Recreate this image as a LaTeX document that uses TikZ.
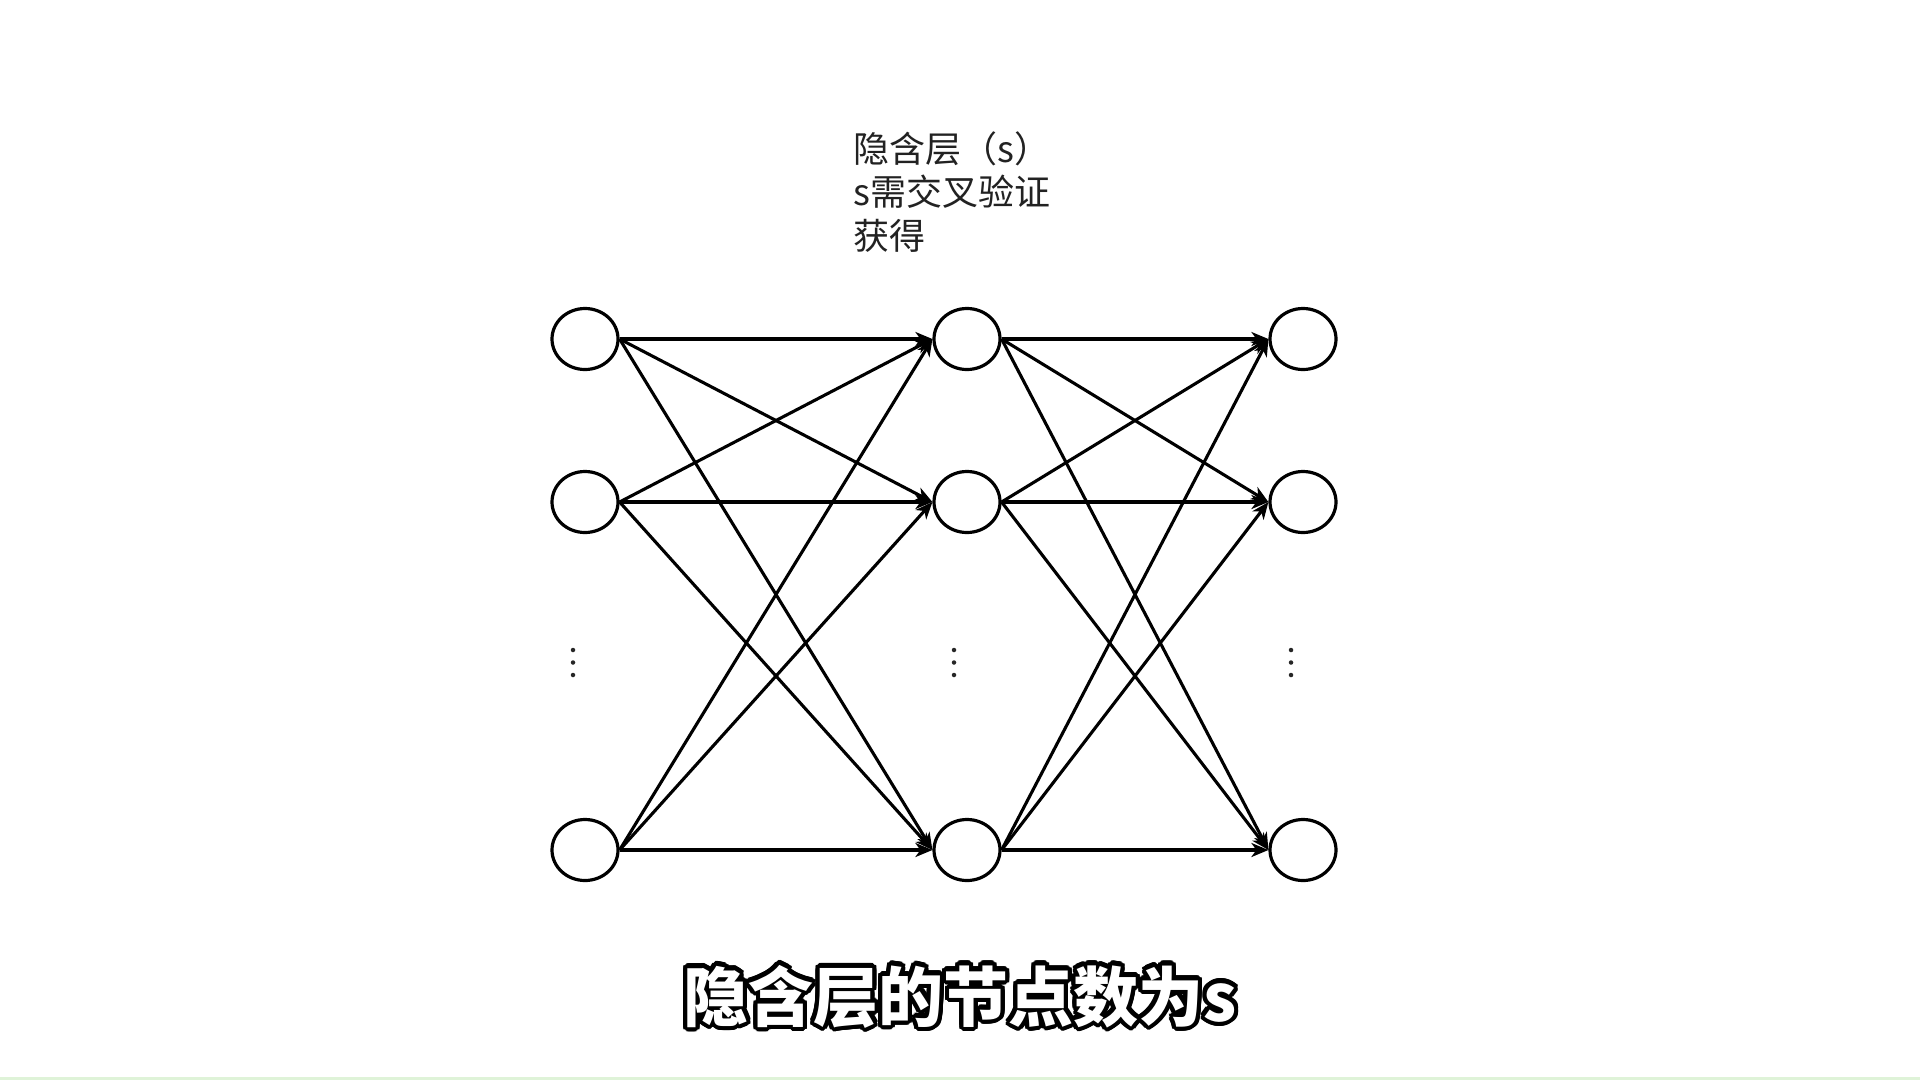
\documentclass[tikz,border=0pt]{standalone}
\usepackage{fontspec}
\setmainfont{Noto Sans CJK SC}
\usetikzlibrary{arrows.meta,shapes.geometric,calc}
\definecolor{bottomgreen}{HTML}{DFF3D8}
\definecolor{inkgray}{HTML}{222222}
\begin{document}
\begin{tikzpicture}[x=1pt,y=-1pt,
  neuron/.style={draw=black,line width=3.2pt,ellipse,minimum width=66pt,minimum height=61pt,inner sep=0pt},
  conn/.style={line width=3.1pt,-{Stealth[length=17pt,width=14pt,inset=5pt]}},
  vdot/.style={circle,fill=black!85,inner sep=0pt,minimum size=4.5pt},
  capfont/.style={font=\bfseries\fontsize{65}{72}\selectfont,inner sep=0pt,anchor=base}]
\fill[white] (0,0) rectangle (1920,1080);
\useasboundingbox (0,0) rectangle (1920,1080);
\fill[bottomgreen] (0,1077) rectangle (1920,1080);
% neurons
\node[neuron] (L1) at (585,339) {};
\node[neuron] (L2) at (585,502) {};
\node[neuron] (L3) at (585,850) {};
\node[neuron] (M1) at (967,339) {};
\node[neuron] (M2) at (967,502) {};
\node[neuron] (M3) at (967,850) {};
\node[neuron] (R1) at (1303,339) {};
\node[neuron] (R2) at (1303,502) {};
\node[neuron] (R3) at (1303,850) {};
% connections
\foreach \a in {L1,L2,L3}{\foreach \b in {M1,M2,M3}{\draw[conn] (\a.east) -- (\b.west);}}
\foreach \a in {M1,M2,M3}{\foreach \b in {R1,R2,R3}{\draw[conn] (\a.east) -- (\b.west);}}
% vertical dots
\foreach \x/\n in {573/l,954/m,1291/r}{
  \node[vdot] (dots\n1) at (\x,650) {};
  \node[vdot] (dots\n2) at (\x,662.5) {};
  \node[vdot] (dots\n3) at (\x,675) {};
}
% title
\node[anchor=base west,align=left,inner sep=0pt,text=inkgray,font=\fontsize{36}{43.5}\selectfont] (title) at (853,249) {隐含层（s）\\s需交叉验证\\获得};
% caption with outline
\foreach \k in {0,...,23}{
  \node[capfont,text=black] (capshadow\k) at ($(960,1021)+({\k*15}:4.2)$) {隐含层的节点数为s};
}
\node[capfont,text=white] (caption) at (960,1021) {隐含层的节点数为s};
\end{tikzpicture}
\end{document}
